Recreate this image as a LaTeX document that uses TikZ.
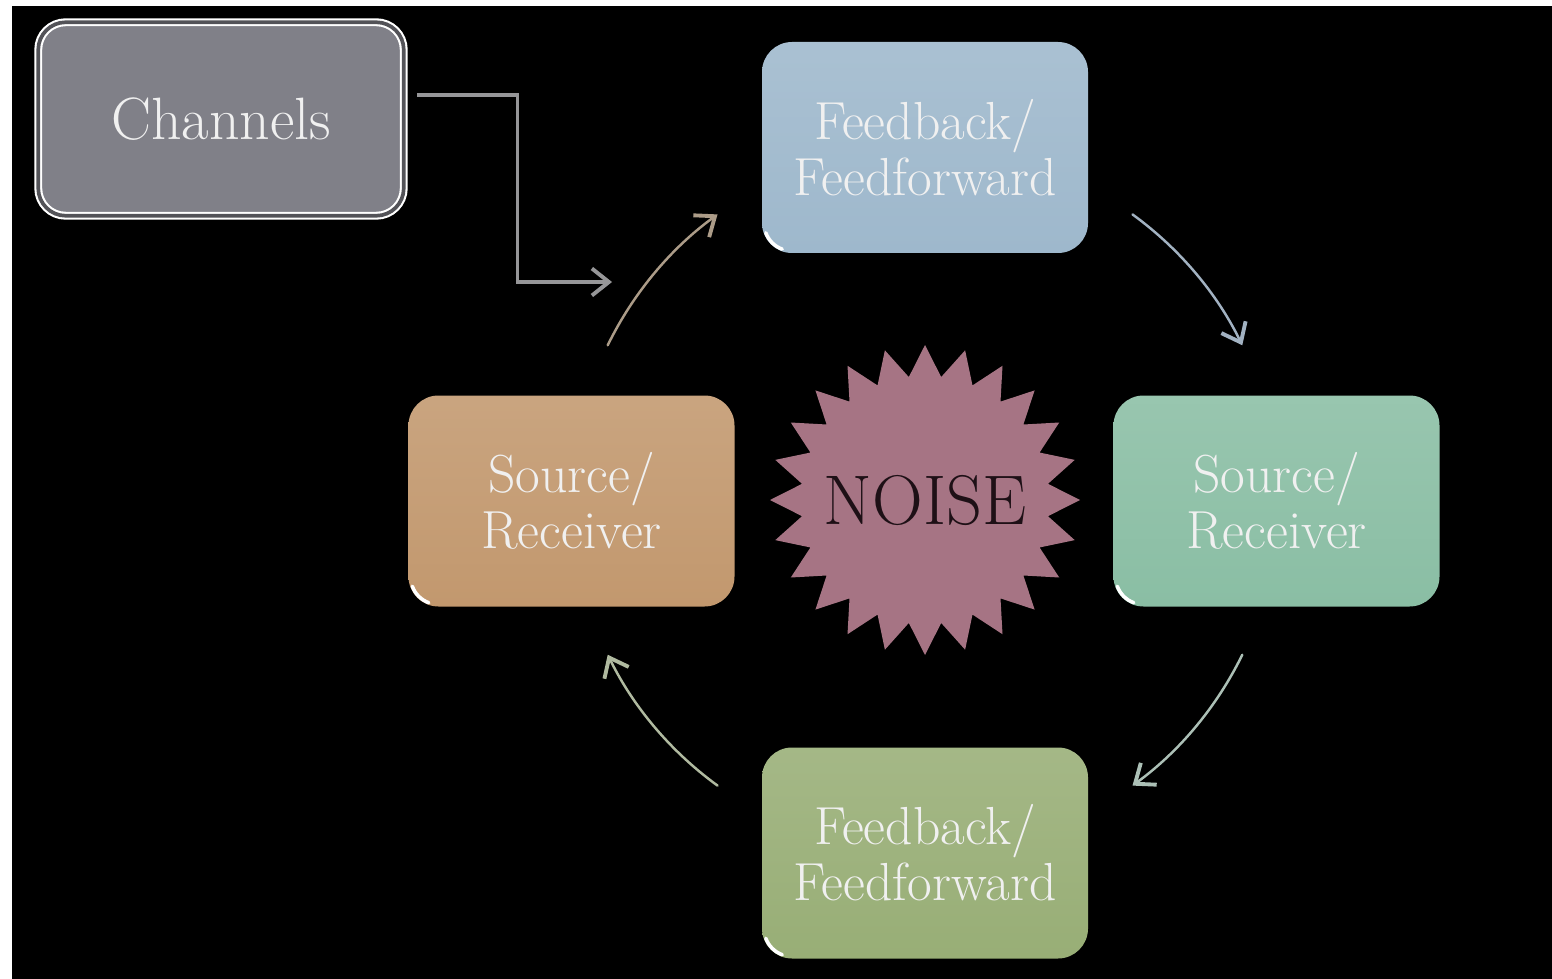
\documentclass[tikz,border=0pt]{standalone}
\usepackage{tikz}
\usetikzlibrary{calc}
\usetikzlibrary{shapes.geometric}
\usetikzlibrary{arrows.meta}
\tikzset{>={Straight Barb[length=3.4mm,width=5.4mm,line width=2.2pt]}}
\definecolor{chgray}{RGB}{128,128,136}
\colorlet{chgap}{chgray!65!black}
\definecolor{fbblue}{RGB}{158,184,204}
\definecolor{srtan}{RGB}{194,152,110}
\definecolor{srmint}{RGB}{138,190,164}
\definecolor{fbgreen}{RGB}{152,174,118}
\definecolor{noisepink}{RGB}{166,116,132}
\definecolor{noisetxt}{RGB}{30,16,22}
\definecolor{elbowgray}{RGB}{150,150,152}
\definecolor{arctan}{RGB}{172,156,136}
\definecolor{arcblue}{RGB}{162,178,194}
\definecolor{arcmint}{RGB}{172,192,182}
\definecolor{arcgreen}{RGB}{176,186,160}
\colorlet{txtcol}{white!94!black}
\tikzset{
  cbox/.style={rectangle, rounded corners=0.6cm, minimum width=6.52cm, minimum height=4.22cm,
    align=center, text=txtcol, font=\fontsize{30.5}{32}\selectfont},
  cyc/.style={->, line width=1.4pt, line cap=round},
  gloss/.style={white, line width=2pt, line cap=round},
}

\begin{document}
\begin{tikzpicture}
    % page and black slide
    \fill[white] (0,0) rectangle (31.04,-19.58);
    \fill[black] (0.24,-0.12) rectangle (31.04,-19.58);

    % Channels box
    \node[rectangle, rounded corners=0.55cm, minimum width=7.31cm, minimum height=3.87cm,
      fill=chgray, draw=white, double=chgap, double distance=2.1pt, line width=1.2pt,
      text=txtcol, font=\fontsize{34}{36}\selectfont] (ch) at (4.42,-2.38) {Channels};

    % the four boxes
    \node[cbox, top color=fbblue!88!white, bottom color=fbblue] (fbtop) at (18.5,-2.95) {Feedback/\\Feedforward};
    \node[cbox, top color=srtan!88!white, bottom color=srtan] (srleft) at (11.43,-10.02) {Source/\\Receiver};
    \node[cbox, top color=srmint!88!white, bottom color=srmint] (srright) at (25.53,-10.02) {Source/\\Receiver};
    \node[cbox, top color=fbgreen!88!white, bottom color=fbgreen] (fbbot) at (18.5,-17.06) {Feedback/\\Feedforward};

    % noise in the middle
    \node[star, star points=24, star point ratio=1.25, minimum size=6.2cm, inner sep=0pt,
      fill=noisepink, label={[text=noisetxt, font=\fontsize{40}{44}\selectfont]center:NOISE}] (noise) at (18.5,-10.0) {};

    % shine on the corners
    \draw[gloss] ($(fbtop.south west)+(0.6,0.6)$) ++(200:0.55) arc[start angle=200, end angle=250, radius=0.55];
    \draw[gloss] ($(srleft.south west)+(0.6,0.6)$) ++(200:0.55) arc[start angle=200, end angle=250, radius=0.55];
    \draw[gloss] ($(srright.south west)+(0.6,0.6)$) ++(200:0.55) arc[start angle=200, end angle=250, radius=0.55];
    \draw[gloss] ($(fbbot.south west)+(0.6,0.6)$) ++(200:0.55) arc[start angle=200, end angle=250, radius=0.55];

    % Channels into the cycle
    \coordinate (chin) at (12.24,-5.64);
    \draw[->, line width=1.8pt, elbowgray] ([shift={(0.25,0.48)}]ch.east) -- ++(2.0,0) |- (chin);

    % ends of the curved arrows
    \coordinate (s1) at ($(noise)+(154:7.06)$);
    \coordinate (s2) at ($(noise)+(54:7.06)$);
    \coordinate (s3) at ($(noise)+(-26:7.06)$);
    \coordinate (s4) at ($(noise)+(-126:7.06)$);

    % left to top
    \draw[cyc, arctan] (s1) arc[start angle=154, end angle=126, radius=7.06];
    % top to right
    \draw[cyc, arcblue] (s2) arc[start angle=54, end angle=26, radius=7.06];
    % right to bottom
    \draw[cyc, arcmint] (s3) arc[start angle=-26, end angle=-54, radius=7.06];
    % bottom to left
    \draw[cyc, arcgreen] (s4) arc[start angle=-126, end angle=-154, radius=7.06];
\end{tikzpicture}
\end{document}
